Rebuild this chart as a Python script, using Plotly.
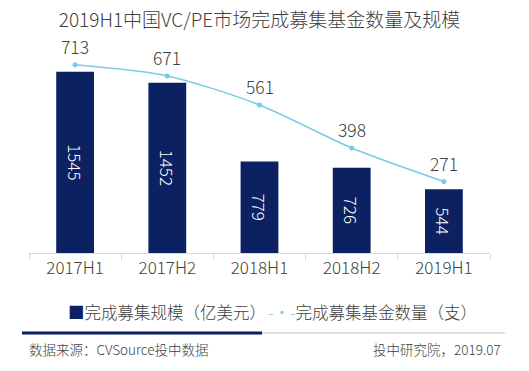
import plotly.graph_objects as go

categories = ["2017H1", "2017H2", "2018H1", "2018H2", "2019H1"]
fund_size = [1545, 1452, 779, 726, 544]        # 完成募集规模（亿美元）
fund_count = [713, 671, 561, 398, 271]         # 完成募集基金数量（支）

FONT = "Noto Sans CJK SC"
NAVY = "#0B2161"
CYAN = "#7ACBE3"
GRAY = "#404040"
W = 300

fig = go.Figure()
fig.add_trace(go.Bar(
    x=categories, y=fund_size, name="完成募集规模（亿美元）",
    marker=dict(color=NAVY, line=dict(width=0)),
    width=0.41,
    text=[str(v) for v in fund_size], textposition="inside",
    insidetextanchor="middle", textangle=90,
    textfont=dict(color="white", size=17, family=FONT, weight=W),
    yaxis="y",
))
fig.add_trace(go.Scatter(
    x=categories, y=fund_count, name="完成募集基金数量（支）",
    mode="lines+markers",
    line=dict(color=CYAN, width=1.5, shape="spline", smoothing=0.8),
    marker=dict(color=CYAN, size=5),
    yaxis="y2", cliponaxis=False,
))

for c, v in zip(categories, fund_count):
    fig.add_annotation(x=c, y=v, xref="x", yref="y2", text=str(v),
                       showarrow=False, yshift=18, yanchor="middle",
                       font=dict(size=17.5, color=GRAY, family=FONT, weight=W))

fig.update_layout(
    width=529, height=371,
    margin=dict(l=29, r=39, t=35, b=118, autoexpand=False),
    paper_bgcolor="white", plot_bgcolor="white",
    font=dict(family=FONT, color=GRAY, weight=W),
    title=dict(text="2019H1中国VC/PE市场完成募集基金数量及规模",
               x=0.5, xref="paper", xanchor="center",
               y=1 - 20 / 371, yanchor="middle",
               font=dict(size=19, color=GRAY, family=FONT, weight=W)),
    bargap=0.59,
    xaxis=dict(showline=True, linecolor="#D9D9D9", linewidth=1,
               ticks="outside", tickson="boundaries", ticklen=6,
               tickcolor="#D9D9D9", showgrid=False,
               tickfont=dict(size=17, color=GRAY, family=FONT, weight=W)),
    yaxis=dict(range=[0, 1858], visible=False, showgrid=False),
    yaxis2=dict(range=[0, 826], visible=False, overlaying="y", side="right",
                showgrid=False),
    showlegend=False,
)

# custom legend (built from trace names/colours)
leg_y = (253 - 312) / 218
fig.add_annotation(
    text=f"<span style='color:{NAVY}'>■</span>{fig.data[0].name}",
    xref="paper", yref="paper", x=(66 - 29) / 461, y=leg_y,
    xanchor="left", yanchor="middle", showarrow=False,
    font=dict(size=16.5, color=GRAY, family=FONT, weight=W))
fig.add_annotation(
    text=f"<span style='color:{CYAN}'>-•-</span>{fig.data[1].name}",
    xref="paper", yref="paper", x=(266 - 29) / 461, y=leg_y,
    xanchor="left", yanchor="middle", showarrow=False,
    font=dict(size=16.5, color=GRAY, family=FONT, weight=W))

# footer separator line
fy = (253 - 333) / 218
fig.add_shape(type="line", xref="paper", yref="paper",
              x0=(22 - 29) / 461, x1=(505 - 29) / 461, y0=fy, y1=fy,
              line=dict(color="#E0E0E0", width=2))
fig.add_shape(type="line", xref="paper", yref="paper",
              x0=(22 - 29) / 461, x1=(262 - 29) / 461, y0=fy, y1=fy,
              line=dict(color=NAVY, width=3))

fig.add_annotation(text="数据来源：CVSource投中数据", xref="paper", yref="paper",
                   x=(27 - 29) / 461, y=(253 - 349) / 218,
                   xanchor="left", yanchor="middle", showarrow=False,
                   font=dict(size=13.5, color=GRAY, family=FONT, weight=W))
fig.add_annotation(text="投中研究院，2019.07", xref="paper", yref="paper",
                   x=(503 - 29) / 461, y=(253 - 349) / 218,
                   xanchor="right", yanchor="middle", showarrow=False,
                   font=dict(size=13.5, color=GRAY, family=FONT, weight=W))

fig.write_html("out.html", config={"displayModeBar": False},
               post_script="document.body.style.margin='0';document.body.style.overflow='hidden';")
